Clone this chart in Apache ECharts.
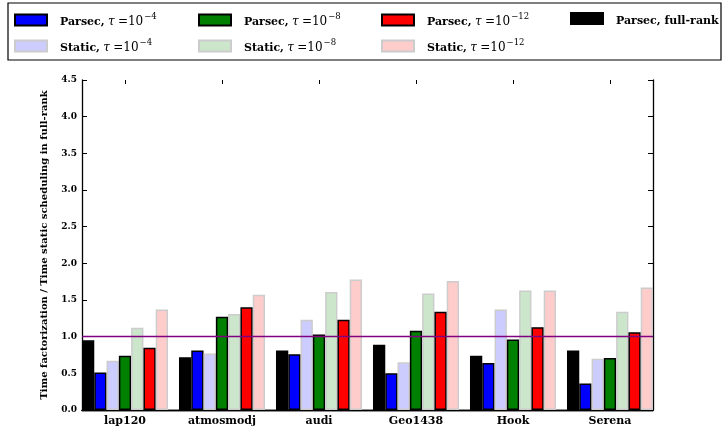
<!DOCTYPE html>
<html>
<head>
<meta charset="utf-8">
<script src="https://cdn.jsdelivr.net/npm/echarts@6/dist/echarts.min.js"></script>
<style>
  html, body { margin: 0; padding: 0; background: #fff; }
  #main { width: 728px; height: 432px; }
</style>
</head>
<body>
<div id="main"></div>
<script>
// matrices
var categories = ['lap120', 'atmosmodj', 'audi', 'Geo1438', 'Hook', 'Serena'];

// ratios
var parsecFull   = [0.95, 0.72, 0.81, 0.89, 0.74, 0.81];
var parsec4      = [0.51, 0.81, 0.76, 0.50, 0.64, 0.36];
var static4      = [0.67, 0.77, 1.23, 0.65, 1.37, 0.70];
var parsec8      = [0.74, 1.27, 1.03, 1.08, 0.96, 0.71];
var static8      = [1.12, 1.31, 1.61, 1.59, 1.63, 1.34];
var parsec12     = [0.85, 1.40, 1.23, 1.34, 1.13, 1.06];
var static12     = [1.37, 1.57, 1.78, 1.76, 1.63, 1.67];

var yTicks = { min: 0, max: 4.5, interval: 0.5 };
var refLevel = 1.0;

var names = {
    full: 'Parsec, full-rank',
    p4: 'Parsec, τ =10⁻⁴',
    s4: 'Static, τ =10⁻⁴',
    p8: 'Parsec, τ =10⁻⁸',
    s8: 'Static, τ =10⁻⁸',
    p12: 'Parsec, τ =10⁻¹²',
    s12: 'Static, τ =10⁻¹²'
};

// legend labels with a real superscript look
var legendRich = {};
legendRich[names.full] = '{b|Parsec, full-rank}';
legendRich[names.p4] = '{b|Parsec,} {i|τ} {m|=10}{s|−4}';
legendRich[names.s4] = '{b|Static,} {i|τ} {m|=10}{s|−4}';
legendRich[names.p8] = '{b|Parsec,} {i|τ} {m|=10}{s|−8}';
legendRich[names.s8] = '{b|Static,} {i|τ} {m|=10}{s|−8}';
legendRich[names.p12] = '{b|Parsec,} {i|τ} {m|=10}{s|−12}';
legendRich[names.s12] = '{b|Static,} {i|τ} {m|=10}{s|−12}';

var FONT = 'DejaVu Serif';

function bar(name, data, color, faded) {
    return {
        name: name,
        type: 'bar',
        xAxisIndex: 0,
        yAxisIndex: 0,
        data: data,
        barGap: '0%',
        barCategoryGap: '11.3%',
        itemStyle: {
            color: color,
            borderColor: faded ? '#cccccc' : '#000000',
            borderWidth: 1.5
        }
    };
}

function legendCol(left, items) {
    return {
        orient: 'vertical',
        left: left,
        top: 7,
        itemWidth: 32,
        itemHeight: 11,
        itemGap: 10,
        icon: 'rect',
        selectedMode: false,
        data: items,
        formatter: function (n) { return legendRich[n]; },
        textStyle: {
            color: '#000',
            padding: [0, 0, 0, 8],
            rich: {
                b: { fontFamily: FONT, fontWeight: 'bold', fontSize: 11, lineHeight: 16, verticalAlign: 'bottom' },
                i: { fontFamily: FONT, fontStyle: 'italic', fontSize: 12, lineHeight: 16, verticalAlign: 'bottom' },
                m: { fontFamily: FONT, fontSize: 12, lineHeight: 16, verticalAlign: 'bottom' },
                s: { fontFamily: FONT, fontSize: 8.5, lineHeight: 16, verticalAlign: 'top', padding: [0, 0, 0, 1] }
            }
        }
    };
}

var chart = echarts.init(document.getElementById('main'));

var option = {
    backgroundColor: '#ffffff',
    animation: false,
    graphic: [{
        type: 'rect',
        shape: { x: 8, y: 3, width: 713, height: 57 },
        style: { fill: 'none', stroke: '#000', lineWidth: 1.2 },
        silent: true
    }],
    legend: [
        legendCol(9, [names.p4, names.s4]),
        legendCol(193, [names.p8, names.s8]),
        legendCol(376, [names.p12, names.s12]),
        legendCol(565, [names.full])
    ],
    grid: [
        { left: 76.5, right: 69.5, top: 80, bottom: 22 },
        { left: 82, right: 75, top: 80, bottom: 22 }
    ],
    xAxis: [
        {
            type: 'category', gridIndex: 0, position: 'bottom',
            data: categories,
            axisLine: { show: false },
            axisTick: { show: true, alignWithLabel: true, inside: true, length: 4, lineStyle: { color: '#000' } },
            axisLabel: { fontFamily: FONT, fontWeight: 'bold', fontSize: 11, color: '#000', margin: 6 }
        },
        {
            type: 'category', gridIndex: 0, position: 'top',
            data: categories,
            axisLine: { show: false },
            axisTick: { show: true, alignWithLabel: true, inside: true, length: 4, lineStyle: { color: '#000' } },
            axisLabel: { show: false }
        },
        {
            type: 'category', gridIndex: 1, position: 'bottom',
            data: categories, boundaryGap: false,
            axisLine: { lineStyle: { color: '#000', width: 1.3 } },
            axisTick: { show: false }, axisLabel: { show: false }
        },
        {
            type: 'category', gridIndex: 1, position: 'top',
            data: categories, boundaryGap: false,
            axisLine: { lineStyle: { color: '#000', width: 1.3 } },
            axisTick: { show: false }, axisLabel: { show: false }
        }
    ],
    yAxis: [
        {
            type: 'value', gridIndex: 0,
            min: yTicks.min, max: yTicks.max, interval: yTicks.interval,
            show: false
        },
        {
            type: 'value', gridIndex: 1, position: 'left',
            min: yTicks.min, max: yTicks.max, interval: yTicks.interval,
            name: 'Time factorization / Time static scheduling in full-rank',
            nameLocation: 'middle',
            nameGap: 33,
            nameTextStyle: { fontFamily: FONT, fontWeight: 'bold', fontSize: 10, color: '#000' },
            axisLine: { show: true, lineStyle: { color: '#000', width: 1.3 } },
            axisTick: { show: true, inside: true, length: 5, lineStyle: { color: '#000' } },
            axisLabel: {
                fontFamily: FONT, fontWeight: 'bold', fontSize: 9, color: '#000', margin: 5,
                formatter: function (v) { return v.toFixed(1); }
            },
            splitLine: { show: false }
        },
        {
            type: 'value', gridIndex: 1, position: 'right',
            min: yTicks.min, max: yTicks.max, interval: yTicks.interval,
            axisLine: { show: true, lineStyle: { color: '#000', width: 1.3 } },
            axisTick: { show: true, inside: true, length: 5, lineStyle: { color: '#000' } },
            axisLabel: { show: false },
            splitLine: { show: false }
        }
    ],
    series: [
        bar(names.full, parsecFull, '#000000', false),
        bar(names.p4, parsec4, '#0000ff', false),
        bar(names.s4, static4, '#ccccff', true),
        bar(names.p8, parsec8, '#008000', false),
        bar(names.s8, static8, '#cce6cc', true),
        bar(names.p12, parsec12, '#ff0000', false),
        bar(names.s12, static12, '#ffcccc', true),
        {
            // reference level drawn across the frame
            name: 'ref',
            type: 'line',
            xAxisIndex: 2,
            yAxisIndex: 1,
            data: [],
            silent: true,
            markLine: {
                symbol: 'none',
                silent: true,
                label: { show: false },
                lineStyle: { color: '#800080', type: 'solid', width: 1.3 },
                data: [{ yAxis: refLevel }]
            }
        }
    ]
};

chart.setOption(option);
</script>
</body>
</html>
